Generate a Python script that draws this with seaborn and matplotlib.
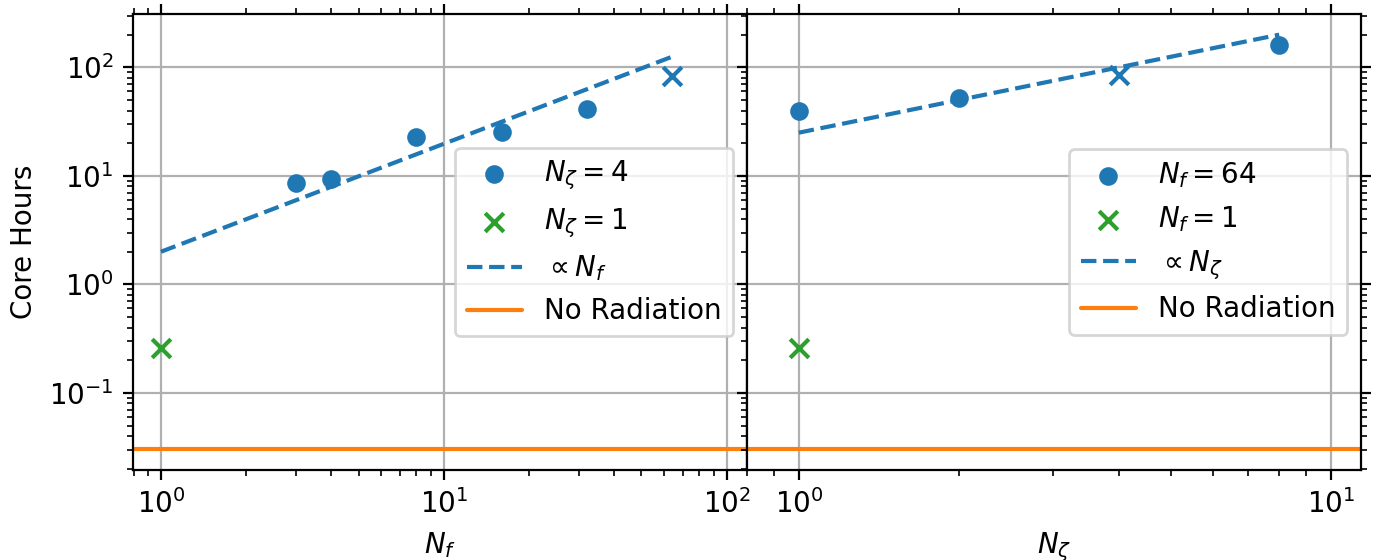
import numpy as np
import pandas as pd
import matplotlib
matplotlib.use("Agg")
import matplotlib.pyplot as plt
import matplotlib.ticker as mticker
import seaborn as sns

# ---- data ----
# Left panel: scaling with N_f
nf_vals = [3, 4, 8, 16, 32]
nf_hours = [8.6, 9.4, 22.8, 25.3, 41.2]
nf_big = [64]
nf_big_hours = [84.0]
nf_one = [1]
nf_one_hours = [0.26]
nf_fit_x = [1, 64]
nf_fit_y = [2.0, 125.0]

# Right panel: scaling with N_zeta
nz_vals = [1, 2, 8]
nz_hours = [39.5, 52.0, 159.0]
nz_big = [4]
nz_big_hours = [85.0]
nz_one = [1]
nz_one_hours = [0.26]
nz_fit_x = [1, 8]
nz_fit_y = [25.0, 200.0]

no_radiation = 0.0305

sns.set_style("ticks", rc={
    "text.color": "black",
    "axes.labelcolor": "black",
    "axes.edgecolor": "black",
    "xtick.color": "black",
    "ytick.color": "black",
})
plt.rcParams["font.family"] = ["DejaVu Sans"]
plt.rcParams["font.size"] = 10
plt.rcParams["mathtext.fontset"] = "dejavusans"

C0, C1, C2 = "#1f77b4", "#ff7f0e", "#2ca02c"

fig, (axL, axR) = plt.subplots(1, 2, figsize=(6.91, 2.8), dpi=200, sharey=True)
fig.subplots_adjust(left=0.0962, right=0.9848, top=0.975, bottom=0.1607, wspace=0)


def panel(ax, xs, ys, xb, yb, x1, y1, fx, fy, lab_main, lab_one, lab_fit):
    sns.scatterplot(x=xs, y=ys, ax=ax, color=C0, marker="o", s=45,
                    linewidth=0, label=lab_main, zorder=3)
    sns.scatterplot(x=x1, y=y1, ax=ax, color=C2, marker="x", s=45,
                    linewidth=1.5, label=lab_one, zorder=3)
    sns.scatterplot(x=xb, y=yb, ax=ax, color=C0, marker="x", s=45,
                    linewidth=1.5, zorder=3)
    sns.lineplot(x=fx, y=fy, ax=ax, color=C0, linestyle="--", lw=1.5,
                 label=lab_fit, zorder=2)
    ax.axhline(no_radiation, color=C1, lw=1.5, label="No Radiation", zorder=2)
    ax.set_xscale("log")
    ax.set_yscale("log")
    ax.grid(True, which="major", color="#b0b0b0", lw=0.8)
    ax.set_axisbelow(True)
    ax.tick_params(which="both", top=True, direction="out", colors="black")
    ax.xaxis.set_minor_formatter(mticker.NullFormatter())
    for sp in ax.spines.values():
        sp.set_color("black")
    ax.legend(loc="center right", fontsize=10)


panel(axL, nf_vals, nf_hours, nf_big, nf_big_hours, nf_one, nf_one_hours,
      nf_fit_x, nf_fit_y, r"$N_\zeta=4$", r"$N_\zeta=1$", r"$\propto N_f$")
panel(axR, nz_vals, nz_hours, nz_big, nz_big_hours, nz_one, nz_one_hours,
      nz_fit_x, nz_fit_y, r"$N_f=64$", r"$N_f=1$", r"$\propto N_\zeta$")

axL.set_xlim(0.796, 118)
axR.set_xlim(0.799, 11.4)
axL.set_ylim(0.0195, 310)

axL.set_xlabel(r"$N_f$", color="black")
axR.set_xlabel(r"$N_\zeta$", color="black")
axL.set_ylabel("Core Hours", color="black")
axR.set_ylabel("")
axR.tick_params(axis="y", which="both", left=True, right=True, labelleft=False)

fig.savefig("out.png", dpi=200)
